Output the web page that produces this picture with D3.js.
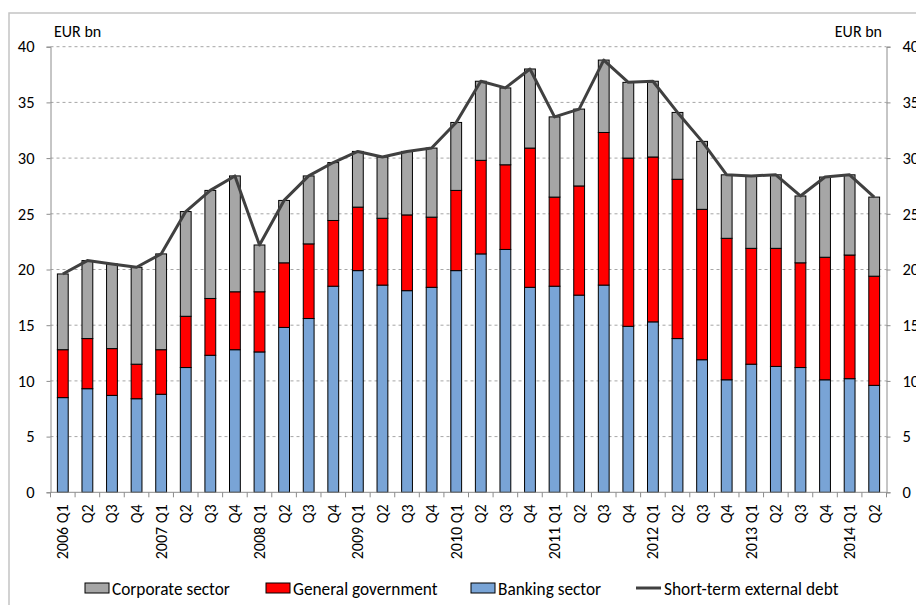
<!DOCTYPE html>
<html lang="en">
<head>
<meta charset="UTF-8">
<title>short-term external debt</title>
<script src="https://d3js.org/d3.v7.min.js"></script>
<style>
    body { margin: 0; background: #ffffff; }
    svg text { font-family: Carlito, Lato, "Open Sans", sans-serif; fill: #000; }
</style>
</head>
<body>
<svg id="chart" width="916" height="605"></svg>
<script>
    // quarters 2006 Q1 .. 2014 Q2
    let quarters = ["2006 Q1","Q2","Q3","Q4","2007 Q1","Q2","Q3","Q4","2008 Q1","Q2","Q3","Q4",
        "2009 Q1","Q2","Q3","Q4","2010 Q1","Q2","Q3","Q4","2011 Q1","Q2","Q3","Q4",
        "2012 Q1","Q2","Q3","Q4","2013 Q1","Q2","Q3","Q4","2014 Q1","Q2"]
    let banking = [8.5,9.3,8.7,8.4,8.8,11.2,12.3,12.8,12.6,14.8,15.6,18.5,19.9,18.6,18.1,18.4,19.9,
        21.4,21.8,18.4,18.5,17.7,18.6,14.9,15.3,13.8,11.9,10.1,11.5,11.3,11.2,10.1,10.2,9.6]
    let government = [4.3,4.5,4.2,3.1,4.0,4.6,5.1,5.2,5.4,5.8,6.7,5.9,5.7,6.0,6.8,6.3,7.2,
        8.4,7.6,12.5,8.0,9.8,13.7,15.1,14.8,14.3,13.5,12.7,10.4,10.6,9.4,11.0,11.1,9.8]
    let corporate = [6.8,7.0,7.6,8.7,8.6,9.4,9.7,10.4,4.2,5.6,6.1,5.2,5.0,5.5,5.7,6.2,6.1,
        7.1,6.9,7.1,7.2,6.9,6.5,6.8,6.8,6.0,6.1,5.7,6.5,6.6,6.0,7.2,7.2,7.1]
    let shortTermDebt = [19.6,20.8,20.5,20.2,21.4,25.2,27.1,28.4,22.2,26.2,28.4,29.6,30.6,30.1,30.6,30.9,33.2,
        36.9,36.3,38.0,33.7,34.4,38.8,36.8,36.9,34.1,31.5,28.5,28.4,28.5,26.6,28.3,28.5,26.5]
    let yTicks = [0,5,10,15,20,25,30,35,40]

    let svg = d3.select("#chart")
    let plotLeft = 50.5, plotRight = 886.5, plotTop = 46.7, plotBottom = 492.3

    // outer frame
    svg.append("path")
        .attr("d", "M9,610 L9,13 L920,13")
        .attr("fill", "none").attr("stroke", "#c4c4c4").attr("stroke-width", 1.5)

    let x = d3.scaleBand().domain(d3.range(quarters.length)).range([plotLeft, plotRight]).paddingInner(0.56).paddingOuter(0.28)
    let y = d3.scaleLinear().domain([0, 40]).range([plotBottom, plotTop])

    // gridlines
    svg.append("g").selectAll("line").data(yTicks.filter(d => d > 0)).join("line")
        .attr("x1", plotLeft).attr("x2", plotRight)
        .attr("y1", d => y(d)).attr("y2", d => y(d))
        .attr("stroke", "#a6a6a6").attr("stroke-dasharray", "3,3")

    // stacked bars
    let rows = quarters.map((q, i) => ({i: i, banking: banking[i], government: government[i], corporate: corporate[i]}))
    let stack = d3.stack().keys(["banking", "government", "corporate"])(rows)
    let colors = {banking: "#79a4d6", government: "#ff0000", corporate: "#a6a6a6"}
    svg.append("g").selectAll("g").data(stack).join("g")
        .attr("fill", d => colors[d.key])
        .selectAll("rect").data(d => d).join("rect")
        .attr("x", d => x(d.data.i))
        .attr("width", x.bandwidth())
        .attr("y", d => y(d[1]))
        .attr("height", d => y(d[0]) - y(d[1]))
        .attr("stroke", "#000").attr("stroke-width", 1)

    // axes
    let yLeft = d3.axisLeft(y).tickValues(yTicks).tickSize(4).tickPadding(12)
    let gl = svg.append("g").attr("transform", `translate(${plotLeft},0)`).call(yLeft)
    let yRight = d3.axisRight(y).tickValues(yTicks).tickSize(4).tickPadding(12)
    let gr = svg.append("g").attr("transform", `translate(${plotRight},0)`).call(yRight)
    ;[gl, gr].forEach(g => {
        g.select(".domain").attr("stroke", "#8c8c8c")
        g.selectAll(".tick line").attr("stroke", "#8c8c8c")
        g.selectAll("text").attr("font-size", 16.5).attr("font-family", "Carlito, Lato, sans-serif")
    })

    // x axis line and ticks at category boundaries
    let gx = svg.append("g")
    gx.append("line").attr("x1", plotLeft).attr("x2", plotRight).attr("y1", plotBottom).attr("y2", plotBottom).attr("stroke", "#8c8c8c")
    gx.selectAll(".xt").data(d3.range(quarters.length + 1)).join("line").attr("class", "xt")
        .attr("x1", i => plotLeft + i * x.step()).attr("x2", i => plotLeft + i * x.step())
        .attr("y1", plotBottom).attr("y2", plotBottom + 5).attr("stroke", "#8c8c8c")
    gx.selectAll("text").data(quarters).join("text")
        .attr("transform", (d, i) => `translate(${x(i) + x.bandwidth() / 2 + 5.5},${plotBottom + 12}) rotate(-90)`)
        .attr("text-anchor", "end")
        .attr("font-size", 16)
        .text(d => d)

    // total line
    let line = d3.line().x((d, i) => x(i) + x.bandwidth() / 2).y(d => y(d))
    svg.append("path").datum(shortTermDebt)
        .attr("d", line).attr("fill", "none")
        .attr("stroke", "#404040").attr("stroke-width", 3).attr("stroke-linejoin", "round")

    // unit labels
    svg.append("text").attr("x", 54).attr("y", 37).attr("font-size", 16).text("EUR bn")
    svg.append("text").attr("x", 882).attr("y", 37).attr("font-size", 16).attr("text-anchor", "end").text("EUR bn")

    // legend
    let legend = [
        {label: "Corporate sector", color: colors.corporate, x: 85},
        {label: "General government", color: colors.government, x: 266},
        {label: "Banking sector", color: colors.banking, x: 471}
    ]
    let lg = svg.append("g").selectAll("g").data(legend).join("g")
        .attr("transform", d => `translate(${d.x},583)`)
    lg.append("rect").attr("width", 24).attr("height", 10).attr("fill", d => d.color)
        .attr("stroke", "#000").attr("stroke-width", 1)
    lg.append("text").attr("x", 27).attr("y", 11.5).attr("font-size", 17.3).text(d => d.label)
    svg.append("line").attr("x1", 636).attr("x2", 661).attr("y1", 588).attr("y2", 588)
        .attr("stroke", "#404040").attr("stroke-width", 3)
    svg.append("text").attr("x", 664).attr("y", 594.5).attr("font-size", 17.3).text("Short-term external debt")
</script>
</body>
</html>
